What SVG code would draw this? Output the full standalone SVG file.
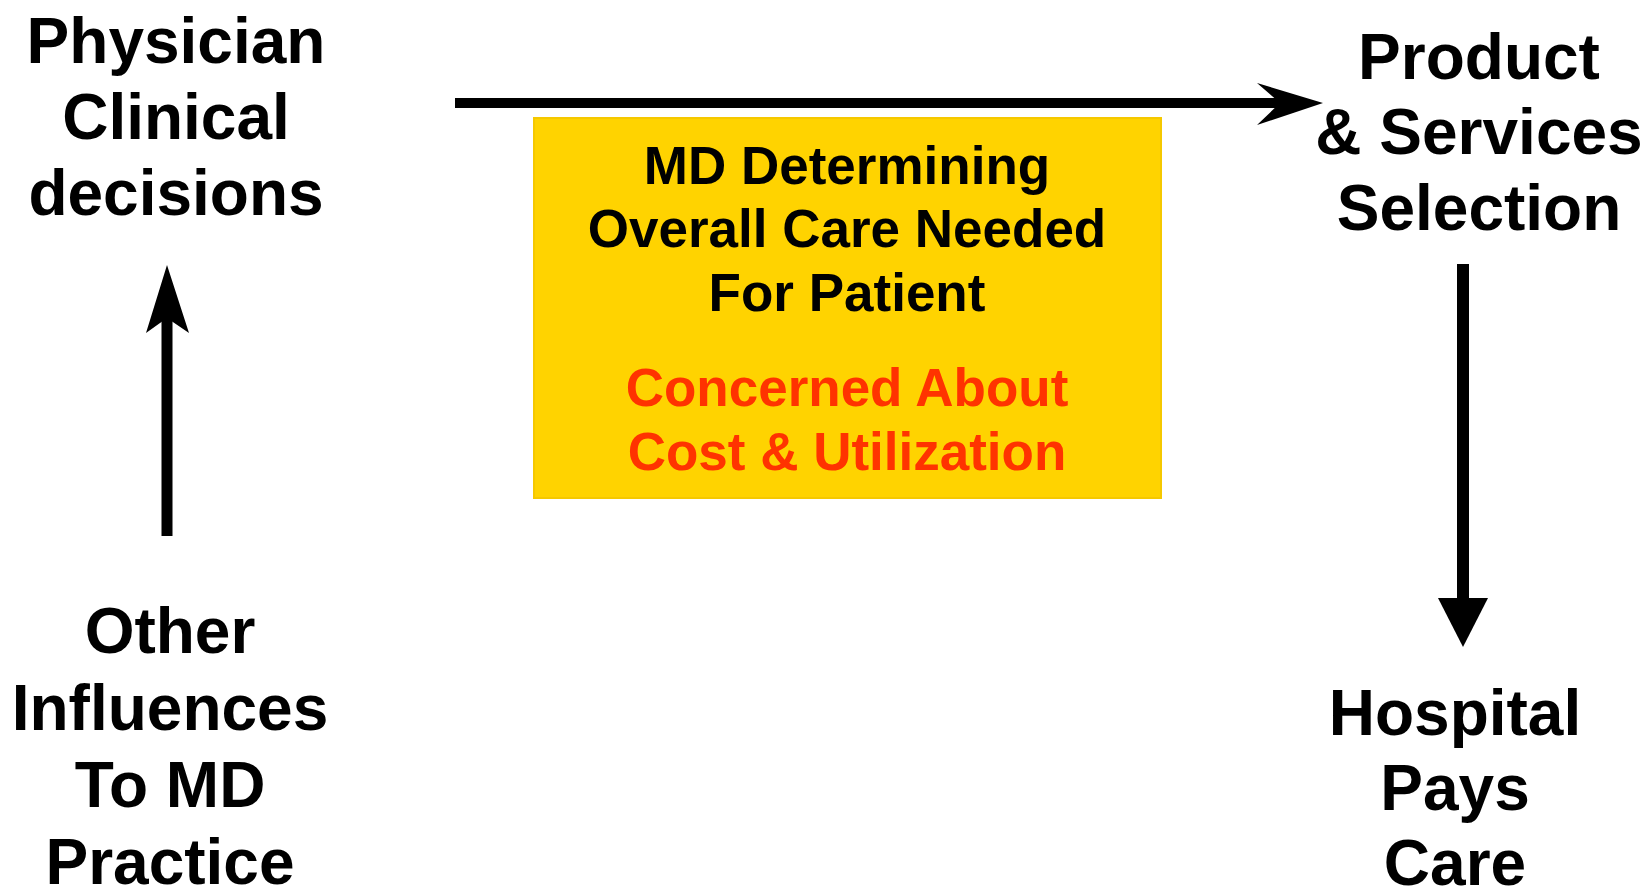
<svg xmlns="http://www.w3.org/2000/svg" width="1647" height="887" viewBox="0 0 1647 887">
<style>
.lbl{font-family:"Liberation Sans",Arial,sans-serif;font-weight:bold;font-size:64px;fill:#000;text-anchor:middle}
.box{font-family:"Liberation Sans",Arial,sans-serif;font-weight:bold;font-size:53px;text-anchor:middle}
.blk{fill:#000}
.red{fill:#FF3300}
.conn{stroke:#000;fill:none}
</style>
<rect width="1647" height="887" fill="#fff"/>
<g id="physician">
<text class="lbl" x="176" y="63">Physician</text>
<text class="lbl" x="176" y="139">Clinical</text>
<text class="lbl" x="176" y="215">decisions</text>
</g>
<g id="product">
<text class="lbl" x="1479" y="79">Product</text>
<text class="lbl" x="1479" y="154">&amp; Services</text>
<text class="lbl" x="1479" y="230">Selection</text>
</g>
<g id="md-box">
<rect x="534" y="118" width="627" height="380" fill="#FFD300" stroke="#F5C800" stroke-width="2"/>
<text class="box blk" x="847" y="184">MD Determining</text>
<text class="box blk" x="847" y="247">Overall Care Needed</text>
<text class="box blk" x="847" y="311">For Patient</text>
<text class="box red" x="847" y="406">Concerned About</text>
<text class="box red" x="847" y="470">Cost &amp; Utilization</text>
</g>
<g id="other">
<text class="lbl" x="170" y="653">Other</text>
<text class="lbl" x="170" y="730">Influences</text>
<text class="lbl" x="170" y="807">To MD</text>
<text class="lbl" x="170" y="884">Practice</text>
</g>
<g id="hospital">
<text class="lbl" x="1455" y="735">Hospital</text>
<text class="lbl" x="1455" y="810">Pays</text>
<text class="lbl" x="1455" y="885">Care</text>
</g>
<g id="connectors">
<line class="conn" x1="455" y1="103" x2="1285" y2="103" stroke-width="10"/>
<polygon points="1323,103 1257,83 1280,103 1257,125" fill="#000"/>
<line class="conn" x1="167" y1="536" x2="167" y2="315" stroke-width="11"/>
<polygon points="167,265 146,333 167,318 189,333" fill="#000"/>
<line class="conn" x1="1463" y1="264" x2="1463" y2="602" stroke-width="12"/>
<polygon points="1438,598 1488,598 1463,647" fill="#000"/>
</g>
</svg>
